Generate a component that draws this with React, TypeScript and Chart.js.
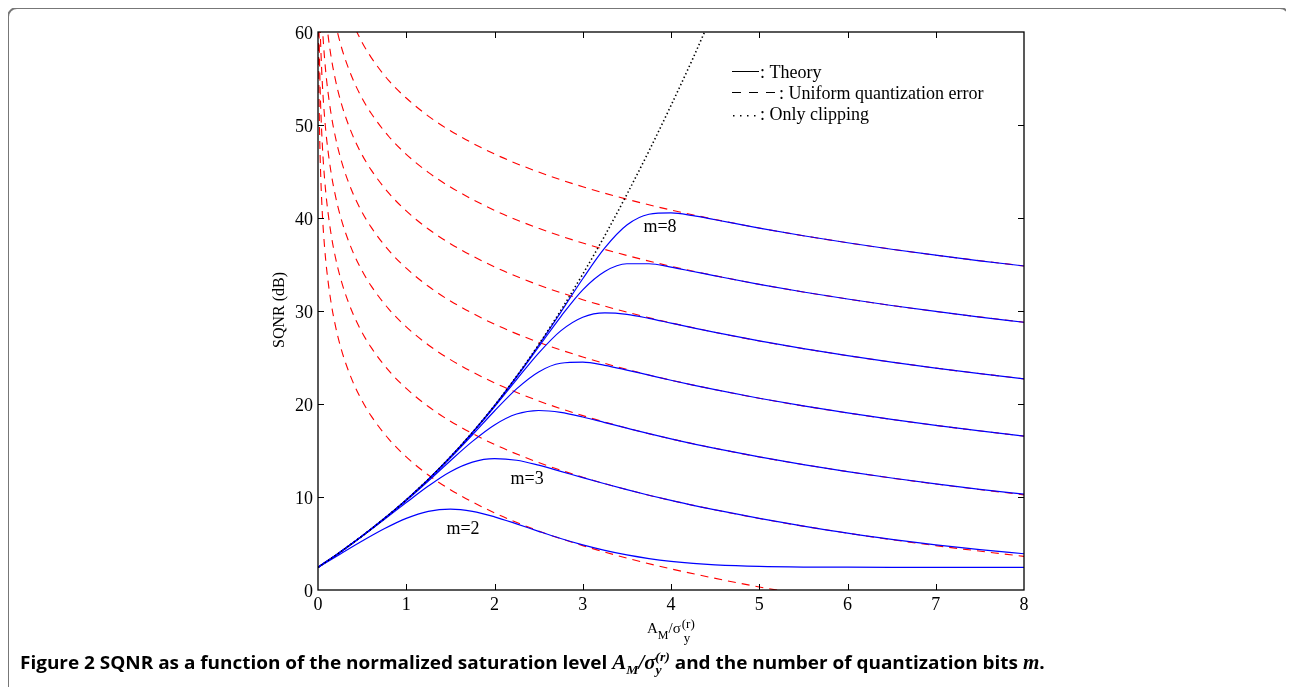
import React, { useEffect, useLayoutEffect, useRef } from "react";
import { Chart, registerables } from "chart.js";

Chart.register(...registerables);

// ---- data ----
const X_TICKS = [0, 1, 2, 3, 4, 5, 6, 7, 8];
const Y_TICKS = [0, 10, 20, 30, 40, 50, 60];
const X_TICK_LABELS = ["0", "1", "2", "3", "4", "5", "6", "7", "8"];
const Y_TICK_LABELS = ["0", "10", "20", "30", "40", "50", "60"];

const X_THEORY = [0, 0.25, 0.5, 0.75, 1, 1.25, 1.5, 1.75, 2, 2.25, 2.5, 2.75, 3, 3.25, 3.5, 3.75, 4, 4.25, 4.5, 5, 5.5, 6, 6.5, 7, 7.5, 8];
const THEORY_M2 = [2.43, 3.85, 5.26, 6.58, 7.7, 8.45, 8.7, 8.46, 7.87, 7.11, 6.31, 5.54, 4.85, 4.26, 3.77, 3.38, 3.08, 2.86, 2.71, 2.54, 2.47, 2.45, 2.44, 2.43, 2.43, 2.43];
const THEORY_M3 = [2.43, 4.07, 5.78, 7.57, 9.4, 11.18, 12.72, 13.75, 14.12, 13.95, 13.42, 12.76, 12.08, 11.42, 10.79, 10.19, 9.63, 9.1, 8.62, 7.7, 6.87, 6.11, 5.45, 4.86, 4.35, 3.9];
const THEORY_M4 = [2.43, 4.07, 5.8, 7.65, 9.62, 11.72, 13.9, 15.98, 17.75, 18.92, 19.3, 19.1, 18.6, 18.0, 17.4, 16.81, 16.25, 15.72, 15.23, 14.31, 13.48, 12.73, 12.04, 11.41, 10.83, 10.3];
const THEORY_M5 = [2.43, 4.07, 5.81, 7.67, 9.68, 11.85, 14.2, 16.69, 19.25, 21.63, 23.45, 24.38, 24.5, 24.16, 23.65, 23.1, 22.55, 22.03, 21.54, 20.62, 19.79, 19.04, 18.34, 17.7, 17.1, 16.54];
const THEORY_M6 = [2.43, 4.07, 5.81, 7.67, 9.69, 11.89, 14.29, 16.89, 19.69, 22.62, 25.47, 27.86, 29.33, 29.8, 29.64, 29.21, 28.7, 28.19, 27.7, 26.78, 25.95, 25.2, 24.5, 23.86, 23.26, 22.7];
const THEORY_M7 = [2.43, 4.07, 5.81, 7.68, 9.69, 11.9, 14.3, 16.93, 19.8, 22.89, 26.13, 29.38, 32.28, 34.25, 35.08, 35.08, 34.72, 34.25, 33.78, 32.87, 32.04, 31.29, 30.59, 29.95, 29.35, 28.79];
const THEORY_M8 = [2.43, 4.07, 5.81, 7.68, 9.69, 11.9, 14.31, 16.95, 19.82, 22.96, 26.32, 29.86, 33.47, 36.78, 39.24, 40.4, 40.55, 40.25, 39.81, 38.92, 38.09, 37.34, 36.64, 36.0, 35.4, 34.84];

const X_DASH = [0.005, 0.01, 0.02, 0.03, 0.05, 0.075, 0.1, 0.15, 0.2, 0.25, 0.3, 0.4, 0.5, 0.6, 0.8, 1, 1.25, 1.5, 2, 2.5, 3, 3.5, 4, 5, 6, 7, 8];
const DASH_M2 = [60.33, 54.31, 48.29, 44.77, 40.33, 36.81, 34.31, 30.79, 28.29, 26.35, 24.77, 22.27, 20.33, 18.75, 16.25, 14.31, 12.37, 10.79, 8.29, 6.35, 4.77, 3.43, 2.27, 0.33, -1.25, -2.59, -3.75];
const DASH_M3 = [67.69, 61.67, 55.65, 52.13, 47.69, 44.17, 41.67, 38.15, 35.65, 33.71, 32.13, 29.63, 27.69, 26.11, 23.61, 21.67, 19.73, 18.15, 15.65, 13.71, 12.13, 10.79, 9.63, 7.69, 6.11, 4.77, 3.61];
const DASH_M4 = [74.31, 68.29, 62.27, 58.75, 54.31, 50.79, 48.29, 44.77, 42.27, 40.33, 38.75, 36.25, 34.31, 32.73, 30.23, 28.29, 26.35, 24.77, 22.27, 20.33, 18.75, 17.41, 16.25, 14.31, 12.73, 11.39, 10.23];
const DASH_M5 = [80.62, 74.6, 68.58, 65.06, 60.62, 57.1, 54.6, 51.08, 48.58, 46.64, 45.06, 42.56, 40.62, 39.04, 36.54, 34.6, 32.66, 31.08, 28.58, 26.64, 25.06, 23.72, 22.56, 20.62, 19.04, 17.7, 16.54];
const DASH_M6 = [86.78, 80.76, 74.74, 71.22, 66.78, 63.26, 60.76, 57.24, 54.74, 52.8, 51.22, 48.72, 46.78, 45.2, 42.7, 40.76, 38.82, 37.24, 34.74, 32.8, 31.22, 29.88, 28.72, 26.78, 25.2, 23.86, 22.7];
const DASH_M7 = [92.87, 86.85, 80.83, 77.31, 72.87, 69.35, 66.85, 63.33, 60.83, 58.89, 57.31, 54.81, 52.87, 51.29, 48.79, 46.85, 44.91, 43.33, 40.83, 38.89, 37.31, 35.97, 34.81, 32.87, 31.29, 29.95, 28.79];
const DASH_M8 = [98.92, 92.9, 86.88, 83.36, 78.92, 75.4, 72.9, 69.38, 66.88, 64.94, 63.36, 60.86, 58.88, 57.3, 54.8, 52.9, 50.96, 49.38, 46.88, 44.94, 43.36, 42.02, 40.86, 38.92, 37.34, 36.0, 34.84];

const X_CLIP = [0, 0.25, 0.5, 0.75, 1, 1.25, 1.5, 1.75, 2, 2.25, 2.5, 2.75, 3, 3.25, 3.5, 3.75, 4, 4.25, 4.5];
const CLIP_ONLY = [2.43, 4.07, 5.81, 7.68, 9.69, 11.9, 14.31, 16.95, 19.83, 22.98, 26.38, 30.04, 33.96, 38.1, 42.54, 47.2, 52.1, 57.2, 62.6];

const THEORY_SERIES = [THEORY_M2, THEORY_M3, THEORY_M4, THEORY_M5, THEORY_M6, THEORY_M7, THEORY_M8];
const DASH_SERIES = [DASH_M2, DASH_M3, DASH_M4, DASH_M5, DASH_M6, DASH_M7, DASH_M8];

const CURVE_LABELS = ["m=8", "m=3", "m=2"];
const CURVE_LABEL_X = [3.875, 2.37, 1.643];
const CURVE_LABEL_Y = [39.0, 11.94, 6.56];

const LEGEND_TEXTS = [": Theory", ": Uniform quantization error", ": Only clipping"];

const SERIF = '"Liberation Serif", "Times New Roman", serif';

const pts = (xs: number[], ys: number[]) => xs.map((x, i) => ({ x, y: ys[i] }));

const overlayPlugin = {
  id: "overlay",
  afterDatasetsDraw(chart: any) {
    const { ctx, chartArea: a, scales } = chart;
    const xs = scales.x;
    const ys = scales.y;
    ctx.save();
    ctx.setLineDash([]);
    ctx.strokeStyle = "#000";
    // axes box
    ctx.lineWidth = 1.3;
    ctx.strokeRect(a.left, a.top, a.right - a.left, a.bottom - a.top);
    // inward ticks
    ctx.lineWidth = 1;
    const seg = (x1: number, y1: number, x2: number, y2: number) => {
      ctx.beginPath();
      ctx.moveTo(x1, y1);
      ctx.lineTo(x2, y2);
      ctx.stroke();
    };
    X_TICKS.slice(1, -1).forEach((v) => {
      const p = Math.round(xs.getPixelForValue(v)) + 0.5;
      seg(p, a.bottom, p, a.bottom - 6);
      seg(p, a.top, p, a.top + 6);
    });
    Y_TICKS.slice(1, -1).forEach((v) => {
      const p = Math.round(ys.getPixelForValue(v)) + 0.5;
      seg(a.left, p, a.left + 6, p);
      seg(a.right, p, a.right - 6, p);
    });

    // curve labels
    ctx.fillStyle = "#000";
    ctx.font = `18px ${SERIF}`;
    ctx.textAlign = "center";
    ctx.textBaseline = "middle";
    CURVE_LABELS.forEach((t, i) => {
      ctx.fillText(t, xs.getPixelForValue(CURVE_LABEL_X[i]), ys.getPixelForValue(CURVE_LABEL_Y[i]));
    });

    // legend (text style, black samples)
    ctx.textAlign = "left";
    ctx.textBaseline = "alphabetic";
    ctx.font = `18px ${SERIF}`;
    ctx.lineWidth = 1;
    seg(724, 63.5, 751, 63.5);
    ctx.fillText(LEGEND_TEXTS[0], 752, 70);
    seg(724, 84.5, 733, 84.5);
    seg(741, 84.5, 750, 84.5);
    seg(758, 84.5, 767, 84.5);
    ctx.fillText(LEGEND_TEXTS[1], 771, 91);
    [725, 732, 739, 746].forEach((dx) => ctx.fillRect(dx, 107, 1.5, 1.5));
    ctx.fillText(LEGEND_TEXTS[2], 752, 111.5);

    // y axis title
    ctx.save();
    ctx.translate(272, 302);
    ctx.rotate(-Math.PI / 2);
    ctx.textAlign = "center";
    ctx.textBaseline = "middle";
    ctx.font = `16px ${SERIF}`;
    ctx.fillText("SQNR (dB)", 0, 0);
    ctx.restore();

    // x axis title  A_M / sigma_y^(r)
    ctx.textAlign = "left";
    ctx.textBaseline = "alphabetic";
    let x = 639;
    ctx.font = `15px ${SERIF}`;
    ctx.fillText("A", x, 625);
    x += ctx.measureText("A").width;
    ctx.font = `12px ${SERIF}`;
    ctx.fillText("M", x, 631);
    x += ctx.measureText("M").width;
    ctx.font = `15px ${SERIF}`;
    ctx.fillText("/σ", x, 625);
    x += ctx.measureText("/σ").width + 1;
    ctx.font = `13px ${SERIF}`;
    ctx.fillText("y", x + 2, 634);
    ctx.fillText("(r)", x, 620);
    ctx.restore();
  },
};

export default function App() {
  const canvasRef = useRef<HTMLCanvasElement | null>(null);
  const capRef = useRef<HTMLDivElement | null>(null);

  useLayoutEffect(() => {
    document.documentElement.style.overflow = "hidden";
    const el = capRef.current;
    if (el) {
      el.style.transform = "none";
      const w = el.scrollWidth;
      if (w > 0) el.style.transform = `scaleX(${1025 / w})`;
    }
  }, []);

  useEffect(() => {
    const canvas = canvasRef.current;
    if (!canvas) return;
    const datasets: any[] = [];
    datasets.push({
      label: "Only clipping",
      data: pts(X_CLIP, CLIP_ONLY),
      borderColor: "#000",
      borderWidth: 1.6,
      borderDash: [1.4, 2.6],
      pointRadius: 0,
      fill: false,
      cubicInterpolationMode: "monotone",
    });
    THEORY_SERIES.forEach((s, i) =>
      datasets.push({
        label: `Theory m=${i + 2}`,
        data: pts(X_THEORY, s),
        borderColor: "#0000ff",
        borderWidth: 1.2,
        pointRadius: 0,
        fill: false,
        cubicInterpolationMode: "monotone",
      })
    );
    DASH_SERIES.forEach((s, i) =>
      datasets.push({
        label: `Uniform m=${i + 2}`,
        data: pts(X_DASH, s),
        borderColor: "#ff0000",
        borderWidth: 1.1,
        borderDash: [8, 6],
        pointRadius: 0,
        fill: false,
        cubicInterpolationMode: "monotone",
      })
    );

    const chart = new Chart(canvas, {
      type: "line",
      data: { datasets },
      options: {
        animation: false,
        responsive: false,
        devicePixelRatio: 1,
        layout: { padding: { left: 0, top: 24, right: 254, bottom: 0 } },
        plugins: { legend: { display: false }, tooltip: { enabled: false }, title: { display: false } },
        scales: {
          x: {
            type: "linear",
            min: 0,
            max: 8,
            afterFit: (s: any) => {
              s.height = 68;
            },
            grid: { display: false, drawTicks: false },
            border: { display: false },
            ticks: {
              stepSize: 1,
              padding: 4,
              color: "#000",
              font: { family: SERIF, size: 18 },
              callback: (v: any) => X_TICK_LABELS[X_TICKS.indexOf(Number(v))] ?? "",
            },
          },
          y: {
            type: "linear",
            min: 0,
            max: 60,
            afterFit: (s: any) => {
              s.width = 310;
            },
            grid: { display: false, drawTicks: false },
            border: { display: false },
            ticks: {
              stepSize: 10,
              padding: 5,
              labelOffset: 2,
              color: "#000",
              font: { family: SERIF, size: 18 },
              callback: (v: any) => Y_TICK_LABELS[Y_TICKS.indexOf(Number(v))] ?? "",
            },
          },
        },
      } as any,
      plugins: [overlayPlugin],
    });
    return () => chart.destroy();
  }, []);

  const mathStyle: React.CSSProperties = {
    fontFamily: SERIF,
    fontStyle: "italic",
    fontWeight: 700,
    fontSize: 20,
  };
  const subStyle: React.CSSProperties = { fontSize: 13, verticalAlign: "-5px", lineHeight: 0 };
  const supStyle: React.CSSProperties = { fontSize: 13, verticalAlign: "8px", lineHeight: 0 };

  return (
    <div style={{ position: "relative", height: 679 }}>
      <div
        style={{
          position: "absolute",
          left: -1,
          top: -1,
          width: 1283,
          height: 730,
          border: "2px solid #777",
          borderRadius: 10,
          boxSizing: "border-box",
        }}
      />
      <canvas
        ref={canvasRef}
        width={1270}
        height={650}
        style={{ position: "absolute", left: 0, top: 0, width: 1270, height: 650, display: "block" }}
      />
      <div
        ref={capRef}
        style={{
          position: "absolute",
          left: 12,
          top: 642,
          whiteSpace: "nowrap",
          fontFamily: '"Open Sans", "Noto Sans", sans-serif',
          fontWeight: 700,
          fontSize: 18,
          lineHeight: "24px",
          color: "#000",
          transformOrigin: "left top",
        }}
      >
        Figure 2 SQNR as a function of the normalized saturation level{" "}
        <span style={mathStyle}>
          A<span style={subStyle}>M</span>/σ<span style={subStyle}>y</span>
          <span style={{ ...supStyle, marginLeft: -6 }}>(r)</span>
        </span>{" "}
        and the number of quantization bits <span style={mathStyle}>m</span>.
      </div>
    </div>
  );
}
